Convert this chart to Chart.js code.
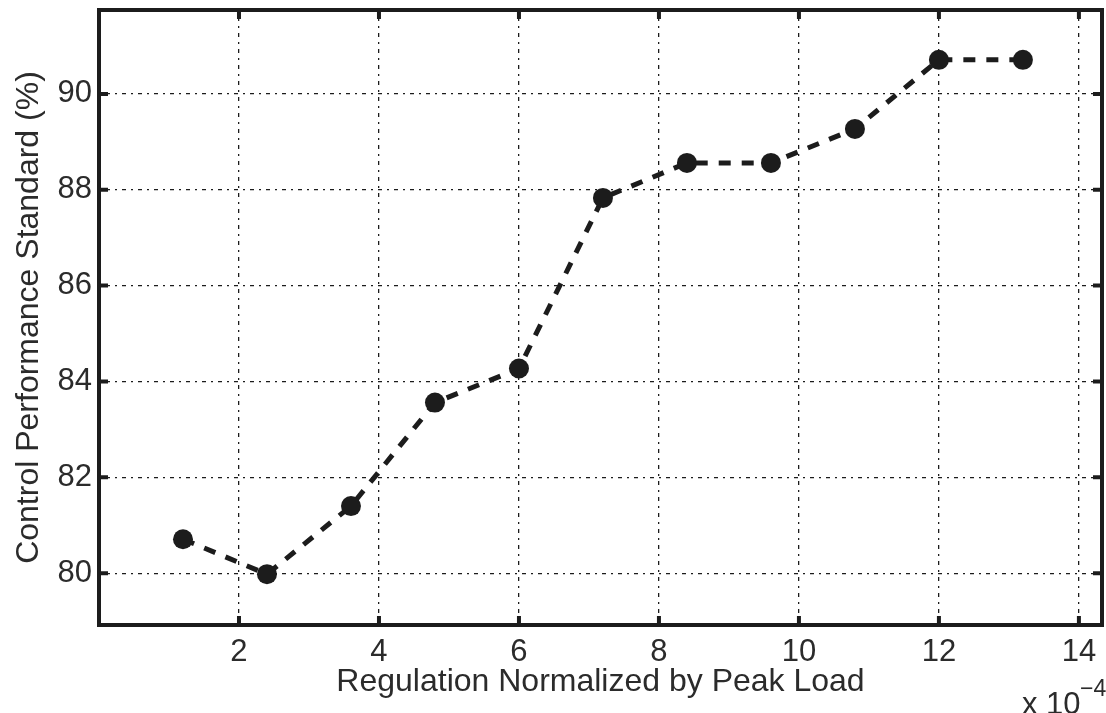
<!DOCTYPE html>
<html>
<head>
<meta charset="utf-8">
<script src="https://cdn.jsdelivr.net/npm/chart.js@4/dist/chart.umd.min.js"></script>
<style>
    html, body { margin: 0; padding: 0; background: #fff; overflow: hidden; }
</style>
</head>
<body>
<canvas id="cps" width="1106" height="713"></canvas>
<script>
(function () {
    'use strict';

    // regulation (x 10^-4) vs CPS (%)
    var regulation = [1.2, 2.4, 3.6, 4.8, 6.0, 7.2, 8.4, 9.6, 10.8, 12.0, 13.2];
    var cps = [80.71, 79.98, 81.40, 83.56, 84.27, 87.83, 88.56, 88.56, 89.27, 90.71, 90.71];
    var xTicks = [2, 4, 6, 8, 10, 12, 14];
    var yTicks = [80, 82, 84, 86, 88, 90];

    var ink = '#1c1c1c';
    var textInk = '#2b2b2b';
    var fontFamily = '"Liberation Sans", Arial, sans-serif';
    var gridDash = [2, 5, 4, 5];

    // MATLAB style frame with inward ticks and the x 10^-4 multiplier
    var framePlugin = {
        id: 'frame',
        afterDraw: function (chart) {
            var ctx = chart.ctx;
            var a = chart.chartArea;
            var xs = chart.scales.x, ys = chart.scales.y;
            var tick = 9;
            ctx.save();
            ctx.strokeStyle = ink;
            ctx.lineWidth = 4;
            xTicks.forEach(function (v) {
                var px = xs.getPixelForValue(v);
                ctx.beginPath();
                ctx.moveTo(px, a.bottom); ctx.lineTo(px, a.bottom - tick);
                ctx.moveTo(px, a.top); ctx.lineTo(px, a.top + tick);
                ctx.stroke();
            });
            yTicks.forEach(function (v) {
                var py = ys.getPixelForValue(v);
                ctx.beginPath();
                ctx.moveTo(a.left, py); ctx.lineTo(a.left + tick, py);
                ctx.moveTo(a.right, py); ctx.lineTo(a.right - tick, py);
                ctx.stroke();
            });
            ctx.strokeRect(a.left, a.top, a.right - a.left, a.bottom - a.top);

            ctx.fillStyle = textInk;
            ctx.textBaseline = 'alphabetic';
            ctx.textAlign = 'left';
            ctx.font = '31px ' + fontFamily;
            ctx.fillText('x 10', 1022, 714);
            ctx.font = '23px ' + fontFamily;
            ctx.fillText('\u22124', 1080, 696);
            ctx.restore();
        }
    };

    function noPad(scale) {
        scale.paddingTop = 0;
        scale.paddingBottom = 0;
        scale.paddingLeft = 0;
        scale.paddingRight = 0;
    }

    new Chart(document.getElementById('cps'), {
        type: 'line',
        data: {
            datasets: [{
                data: regulation.map(function (x, i) { return { x: x, y: cps[i] }; }),
                borderColor: ink,
                borderWidth: 5,
                borderDash: [12, 11],
                pointRadius: 10,
                pointBackgroundColor: ink,
                pointBorderWidth: 0,
                tension: 0,
                fill: false
            }]
        },
        options: {
            responsive: false,
            animation: false,
            layout: { autoPadding: false, padding: { top: 10, right: 4, left: 0, bottom: 0 } },
            plugins: { legend: { display: false }, tooltip: { enabled: false } },
            scales: {
                x: {
                    type: 'linear',
                    min: 0,
                    max: 14.33,
                    afterBuildTicks: function (scale) {
                        scale.ticks = xTicks.map(function (v) { return { value: v }; });
                    },
                    afterFit: function (scale) { scale.height = 88; noPad(scale); },
                    border: { display: false, dash: gridDash },
                    grid: { color: ink, lineWidth: 1.3, drawTicks: false },
                    ticks: { color: textInk, font: { family: fontFamily, size: 31 }, padding: 9, maxRotation: 0 },
                    title: { display: true, text: 'Regulation Normalized by Peak Load', color: textInk, font: { family: fontFamily, size: 32 }, padding: { top: 0, bottom: 12 } }
                },
                y: {
                    type: 'linear',
                    min: 78.92,
                    max: 91.75,
                    afterBuildTicks: function (scale) {
                        scale.ticks = yTicks.map(function (v) { return { value: v }; });
                    },
                    afterFit: function (scale) { scale.width = 99; noPad(scale); },
                    border: { display: false, dash: gridDash },
                    grid: { color: ink, lineWidth: 1.3, drawTicks: false },
                    ticks: { color: textInk, font: { family: fontFamily, size: 31 }, padding: 7 },
                    title: { display: true, text: 'Control Performance Standard (%)', color: textInk, font: { family: fontFamily, size: 32 }, padding: { top: 10, bottom: 0 } }
                }
            }
        },
        plugins: [framePlugin]
    });
})();
</script>
</body>
</html>
